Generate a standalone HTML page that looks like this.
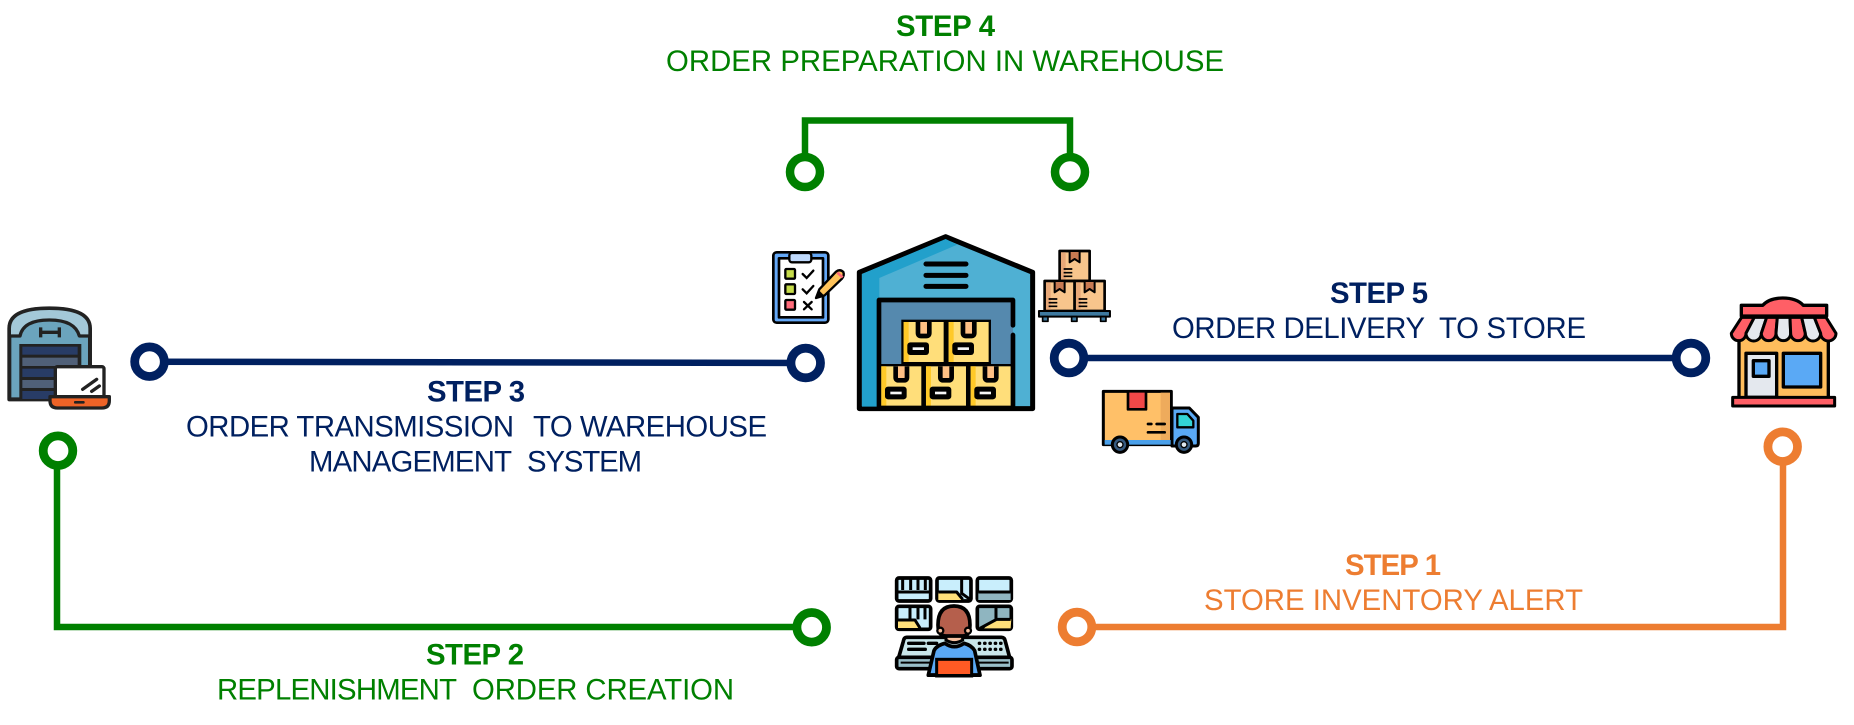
<!DOCTYPE html>
<html><head><meta charset="utf-8"><style>
html,body{margin:0;padding:0;background:#fff}
svg{display:block}
text{font-family:"Liberation Sans",Arial,sans-serif;font-size:29.330px}
.b{font-weight:bold}
.i{stroke:#000;stroke-linejoin:round;stroke-linecap:round}
</style></head><body>
<svg xmlns="http://www.w3.org/2000/svg" width="1854" height="725" viewBox="0 0 1854 725">
<rect width="1854" height="725" fill="#fff"/>
<defs>
<g id="box">
<rect x="0" y="0" width="120" height="120" fill="#ffde7a"/>
<rect x="0" y="0" width="15" height="120" fill="#ffc928"/>
<path d="M43 0V33Q43 42 52 42H68Q77 42 77 33V0" fill="#ffc084" stroke="#000" stroke-width="14"/>
<rect x="11" y="61" width="65" height="38" rx="9" fill="#000"/>
<rect x="27" y="76" width="34" height="8" fill="#f6f6f6"/>
</g>
<g id="carton">
<rect x="0" y="0" width="90" height="90" fill="#f8c58c" stroke="#000" stroke-width="8" stroke-linejoin="round"/>
<rect x="4" y="4" width="14" height="82" fill="#e8a878"/>
<path d="M30 0V34L45 24L60 34V0Z" fill="#c87a52" stroke="#000" stroke-width="6" stroke-linejoin="round"/>
<path d="M12 54H38M12 65H38M12 76H38" stroke="#000" stroke-width="5"/>
</g>
</defs>

<!-- connectors -->
<g fill="none" stroke-linejoin="miter">
<path d="M805 172V120.500H1070V172" stroke="#008000" stroke-width="6.500"/>
<circle cx="805" cy="172" r="15" fill="#fff" stroke="#008000" stroke-width="8.500"/>
<circle cx="1070" cy="172" r="15" fill="#fff" stroke="#008000" stroke-width="8.500"/>
<path d="M149 361.700L806 363" stroke="#002060" stroke-width="6.500"/>
<circle cx="149.500" cy="361.700" r="14.800" fill="#fff" stroke="#002060" stroke-width="8.800"/>
<circle cx="805.700" cy="363" r="14.800" fill="#fff" stroke="#002060" stroke-width="8.800"/>
<path d="M1069 358H1691" stroke="#002060" stroke-width="6.500"/>
<circle cx="1069" cy="358" r="14.800" fill="#fff" stroke="#002060" stroke-width="8.800"/>
<circle cx="1691" cy="358" r="14.800" fill="#fff" stroke="#002060" stroke-width="8.800"/>
<path d="M57 451V627H812" stroke="#008000" stroke-width="6.500"/>
<circle cx="58" cy="450.700" r="14.800" fill="#fff" stroke="#008000" stroke-width="8.800"/>
<circle cx="811.700" cy="627.300" r="14.800" fill="#fff" stroke="#008000" stroke-width="8.800"/>
<path d="M1077 627H1783V447" stroke="#ED7D31" stroke-width="6.500"/>
<circle cx="1077" cy="627" r="14.800" fill="#fff" stroke="#ED7D31" stroke-width="8.800"/>
<circle cx="1782.700" cy="446.700" r="14.800" fill="#fff" stroke="#ED7D31" stroke-width="8.800"/>
</g>

<!-- labels -->
<g fill="#008000">
<text class="b" x="896" y="36" textLength="99" lengthAdjust="spacing">STEP 4</text>
<text x="666" y="71" textLength="558" lengthAdjust="spacing">ORDER PREPARATION IN WAREHOUSE</text>
<text class="b" x="426" y="664.500" textLength="98" lengthAdjust="spacing">STEP 2</text>
<text x="217" y="699.500" textLength="240" lengthAdjust="spacing">REPLENISHMENT</text>
<text x="472" y="699.500" textLength="262" lengthAdjust="spacing">ORDER CREATION</text>
</g>
<g fill="#002060">
<text class="b" x="427" y="401.500" textLength="98" lengthAdjust="spacing">STEP 3</text>
<text x="186" y="436.500" textLength="328" lengthAdjust="spacing">ORDER TRANSMISSION</text>
<text x="533" y="436.500" textLength="234" lengthAdjust="spacing">TO WAREHOUSE</text>
<text x="309" y="471.500" textLength="203" lengthAdjust="spacing">MANAGEMENT</text>
<text x="527" y="471.500" textLength="115" lengthAdjust="spacing">SYSTEM</text>
<text class="b" x="1330" y="303" textLength="98" lengthAdjust="spacing">STEP 5</text>
<text x="1172" y="338" textLength="253" lengthAdjust="spacing">ORDER DELIVERY</text>
<text x="1439" y="338" textLength="147" lengthAdjust="spacing">TO STORE</text>
</g>
<g fill="#ED7D31">
<text class="b" x="1345" y="575" textLength="96" lengthAdjust="spacing">STEP 1</text>
<text x="1204" y="610" textLength="379" lengthAdjust="spacing">STORE INVENTORY ALERT</text>
</g>

<!-- warehouse + laptop icon -->
<g transform="translate(0,280) scale(0.3333)">
<path d="M28 358V145Q28 85 148 85Q270 85 270 145V358Z" fill="#6ba4bd" stroke="#222" stroke-width="12" stroke-linejoin="round"/>
<path d="M28 145Q28 85 148 85Q270 85 270 145V168H238Q225 120 148 120Q70 120 60 168H28Z" fill="#a3c8d8" stroke="#222" stroke-width="10" stroke-linejoin="round"/>
<path d="M122 142V172M178 142V172M122 157H178" stroke="#222" stroke-width="10" fill="none"/>
<rect x="58" y="192" width="186" height="168" fill="#222"/>
<rect x="67" y="200" width="166" height="24" fill="#283c66"/>
<rect x="67" y="233" width="166" height="25" fill="#506078"/>
<rect x="67" y="266" width="166" height="25" fill="#283c66"/>
<rect x="67" y="300" width="166" height="24" fill="#506078"/>
<rect x="67" y="333" width="166" height="24" fill="#283c66"/>
<rect x="166" y="260" width="146" height="92" rx="6" fill="#fff" stroke="#222" stroke-width="10"/>
<path d="M248 328L290 298M275 334L298 318" stroke="#222" stroke-width="10" stroke-linecap="round"/>
<path d="M150 350H328V362Q328 384 306 384H172Q150 384 150 362Z" fill="#ee6327" stroke="#222" stroke-width="10" stroke-linejoin="round"/>
<rect x="222" y="363" width="32" height="8" rx="3" fill="#222"/>
</g>

<!-- central warehouse -->
<g transform="translate(750,220) scale(0.3333)">
<polygon class="i" points="328,157 587,50 848,157 848,566 328,566" fill="#4fb0d3" stroke-width="15"/>
<path d="M336 162L587 57L622 74L388 174V240H382V560H336Z" fill="#22a0cb"/>
<path d="M528 132H648M528 166H648M528 199H648" stroke="#000" stroke-width="15" stroke-linecap="round"/>
<rect x="387" y="240" width="402" height="322" fill="#5589ae"/>
<path d="M387 562V240H789V316M789 345V562" class="i" fill="none" stroke-width="14"/>
<rect x="454" y="299" width="269" height="134" fill="#000"/>
<rect x="387" y="432" width="402" height="130" fill="#000"/>
<use href="#box" x="461" y="306"/>
<use href="#box" x="596" y="306"/>
<use href="#box" x="394" y="439"/>
<use href="#box" x="528" y="439"/>
<use href="#box" x="662" y="439"/>
<rect x="387" y="557" width="402" height="9" fill="#000"/>
<!-- clipboard -->
<rect class="i" x="70" y="97" width="165" height="211" rx="10" fill="#64a8f7" stroke-width="8"/>
<rect class="i" x="87" y="115" width="132" height="177" fill="#fff" stroke-width="8"/>
<rect class="i" x="118" y="99" width="66" height="28" rx="8" fill="#bed8fb" stroke-width="7"/>
<rect class="i" x="106" y="147" width="29" height="29" rx="3" fill="#c6dc4a" stroke-width="7"/>
<rect class="i" x="106" y="193" width="29" height="29" rx="3" fill="#c6dc4a" stroke-width="7"/>
<rect class="i" x="106" y="240" width="29" height="29" rx="3" fill="#ff6b7a" stroke-width="7"/>
<path d="M158 162L170 174L190 152M158 208L170 220L190 198M162 246L185 268M185 246L162 268" fill="none" stroke="#000" stroke-width="7" stroke-linecap="round"/>
<path class="i" d="M198 234L208 208L258 155Q270 146 280 156Q284 166 276 176L224 226Z" fill="#ffc35a" stroke-width="7"/>
<path d="M198 234L208 212L220 224Z" fill="#000"/>
<path d="M262 158L278 172" stroke="#ff6b7a" stroke-width="8"/>
<!-- cartons -->
<use href="#carton" x="929" y="93"/>
<use href="#carton" x="884" y="183"/>
<use href="#carton" x="974" y="183"/>
<rect class="i" x="867" y="273" width="213" height="17" fill="#3e7aa0" stroke-width="6"/>
<rect class="i" x="878" y="290" width="16" height="14" fill="#3e7aa0" stroke-width="5"/>
<rect class="i" x="965" y="290" width="16" height="14" fill="#3e7aa0" stroke-width="5"/>
<rect class="i" x="1052" y="290" width="16" height="14" fill="#3e7aa0" stroke-width="5"/>
</g>

<!-- truck -->
<g transform="translate(1090,380) scale(0.3333)">
<path class="i" d="M246 84H298L325 112V190Q325 198 317 198H246Z" fill="#5aa9f5" stroke-width="9"/>
<path class="i" d="M262 102H292L310 122V142H262Z" fill="#33d3d6" stroke-width="7"/>
<path class="i" d="M40 34H244V194H40Z" fill="#ffc068" stroke-width="9"/>
<rect x="212" y="38" width="28" height="142" fill="#eeab5c"/>
<rect class="i" x="114" y="34" width="54" height="54" fill="#f04848" stroke-width="8"/>
<path d="M174 132H184M200 132H224M174 157H224" stroke="#000" stroke-width="8" stroke-linecap="round"/>
<rect x="44" y="180" width="198" height="14" fill="#4aa0ea"/>
<circle class="i" cx="90" cy="194" r="23" fill="#355a80" stroke-width="9"/>
<circle cx="90" cy="194" r="9" fill="#dfe8f0" stroke="#000" stroke-width="4"/>
<circle class="i" cx="282" cy="194" r="23" fill="#355a80" stroke-width="9"/>
<circle cx="282" cy="194" r="9" fill="#dfe8f0" stroke="#000" stroke-width="4"/>
</g>

<!-- store -->
<g transform="translate(1700,280) scale(0.3333)">
<rect class="i" x="117" y="165" width="268" height="195" fill="#ffbd5c" stroke-width="10"/>
<path class="i" d="M124 76H188Q208 54 248 54Q290 54 310 76H380V108H124Z" fill="#ff5f66" stroke-width="10"/>
<g class="i" stroke-width="9">
<path d="M125 112L94 160A22 22 0 0 0 138 160L163 112Z" fill="#ff5f66"/>
<path d="M163 112L138 160A22 22 0 0 0 184 160L200 112Z" fill="#e4e8ee"/>
<path d="M200 112L184 160A22 22 0 0 0 228 160L232 112Z" fill="#ff5f66"/>
<path d="M232 112L228 160A22 22 0 0 0 272 160L270 112Z" fill="#e4e8ee"/>
<path d="M270 112L272 160A22 22 0 0 0 316 160L305 112Z" fill="#ff5f66"/>
<path d="M305 112L316 160A23 23 0 0 0 362 160L343 112Z" fill="#e4e8ee"/>
<path d="M343 112L362 160A23 23 0 0 0 408 160L378 112Z" fill="#ff5f66"/>
</g>
<rect class="i" x="138" y="220" width="92" height="132" fill="#e4e8ee" stroke-width="10"/>
<rect class="i" x="160" y="242" width="47" height="47" fill="#5aa9f5" stroke-width="10"/>
<rect class="i" x="250" y="220" width="112" height="101" fill="#5aa9f5" stroke-width="10"/>
<rect class="i" x="98" y="352" width="306" height="26" fill="#ff5f66" stroke-width="9"/>
</g>

<!-- operator -->
<g transform="translate(780,560) scale(0.3333)">
<g stroke="#000" stroke-width="11" stroke-linejoin="round">
<rect x="350" y="54" width="102" height="69" rx="7" fill="#c9eefc"/>
<rect x="471" y="54" width="102" height="69" rx="7" fill="#c9eefc"/>
<rect x="592" y="54" width="102" height="69" rx="7" fill="#c9eefc"/>
<rect x="350" y="139" width="102" height="69" rx="7" fill="#c9eefc"/>
<rect x="592" y="139" width="102" height="69" rx="7" fill="#8fb5c0"/>
<path d="M352 96H450M368 58V90M392 58V90M414 58V90M436 58V90" fill="none" stroke-width="9"/>
<path d="M475 96H530L545 120H475Z" fill="#ffe07a" stroke-width="0"/>
<path d="M475 96H530L548 118M545 58V100L570 118" fill="none" stroke-width="9"/>
<path d="M595 97H692V120H595Z" fill="#8fb5c0" stroke-width="0"/>
<path d="M595 96H692" fill="none" stroke-width="9"/>
<path d="M354 182H410L418 204H354Z" fill="#ffe07a" stroke-width="0"/>
<path d="M354 180H405L420 204M390 142V180M414 142V178M435 142V178" fill="none" stroke-width="9"/>
<path d="M694 178H650L612 205H692Z" fill="#ffe07a" stroke-width="0"/>
<path d="M692 178H650L600 205M648 142V178H690" fill="none" stroke-width="9"/>
<path d="M380 232H664Q674 232 676 244L690 296H355L370 244Q372 232 380 232Z" fill="#c9e6ea"/>
<rect x="350" y="292" width="346" height="34" rx="7" fill="#98bec8"/>
</g>
<path d="M386 250H432M445 250H470M386 268H436" stroke="#000" stroke-width="10" stroke-linecap="round"/>
<path d="M598 250H664M598 268H664" stroke="#000" stroke-width="10" stroke-dasharray="1 15" stroke-linecap="round"/>
<path d="M362 308H686" stroke="#000" stroke-width="6"/>
<path d="M498 212H548V240Q523 256 498 240Z" fill="#f6c0a0" stroke="#000" stroke-width="9"/>
<path d="M445 345L462 272Q470 256 495 250Q523 270 552 250Q575 256 584 272L600 345Z" fill="#5aa9f5" stroke="#000" stroke-width="11" stroke-linejoin="round"/>
<rect x="470" y="298" width="105" height="50" fill="#ff5a24" stroke="#000" stroke-width="9"/>
<rect x="440" y="342" width="165" height="9" rx="4" fill="#000"/>
<path d="M474 195Q474 138 522 138Q570 138 570 195Q570 228 548 228H498Q474 228 474 195Z" fill="#b55f4c" stroke="#000" stroke-width="11"/>
<circle cx="481" cy="212" r="9" fill="#f6c0a0" stroke="#000" stroke-width="7"/>
<circle cx="564" cy="212" r="9" fill="#f6c0a0" stroke="#000" stroke-width="7"/>
</g>
</svg>
</body></html>
